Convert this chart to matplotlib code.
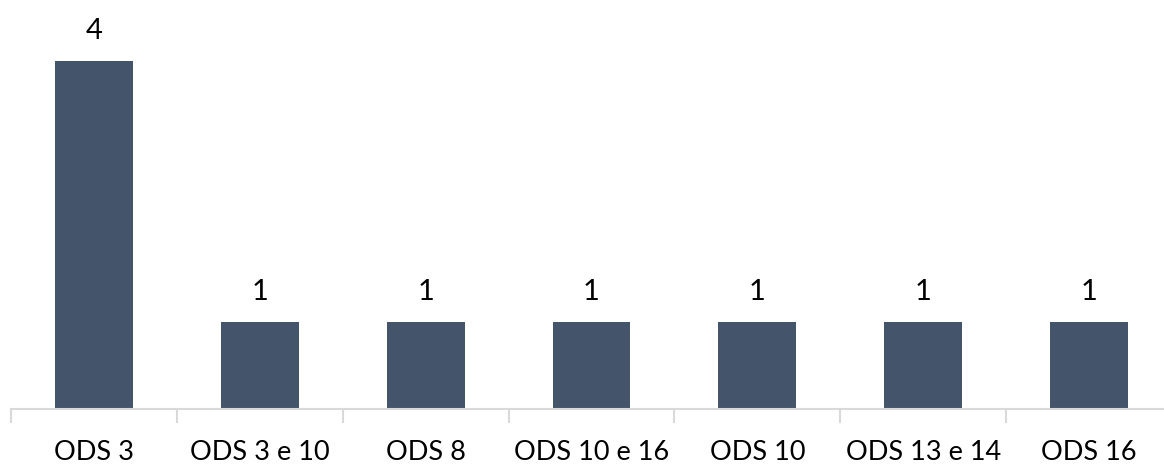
import matplotlib.pyplot as plt
import numpy as np

categorias = ['ODS 3', 'ODS 3 e 10', 'ODS 8', 'ODS 10 e 16', 'ODS 10', 'ODS 13 e 14', 'ODS 16']
valores = [4, 1, 1, 1, 1, 1, 1]

plt.rcParams['font.family'] = ['Lato', 'DejaVu Sans']

fig = plt.figure(figsize=(11.64, 4.65), dpi=100)
ax = fig.add_axes([11 / 1164, 56 / 465, 1161 / 1164, 409 / 465])

x = np.arange(len(categorias))
ax.bar(x, valores, width=0.47, color='#44546a', zorder=2)

for xi, v in zip(x, valores):
    ax.text(xi, v + 0.2, str(v), ha='center', va='bottom', fontsize=21, color='black')

ax.set_xlim(-0.5, len(categorias) - 0.5)
ax.set_ylim(0, 4.7)

# eixo horizontal com marcas entre as categorias
for lado in ['top', 'right', 'left']:
    ax.spines[lado].set_visible(False)
ax.spines['bottom'].set_color('#d9d9d9')
ax.spines['bottom'].set_linewidth(1.5)
ax.set_yticks([])
ax.set_xticks(np.arange(-0.5, len(categorias), 1.0))
ax.set_xticklabels([])
ax.tick_params(axis='x', length=10, width=1.5, color='#d9d9d9')
ax.set_xticks(x, minor=True)
ax.set_xticklabels(categorias, minor=True, fontsize=19.5)
ax.tick_params(axis='x', which='minor', length=0, pad=22)

fig.savefig('out.png', dpi=100)
